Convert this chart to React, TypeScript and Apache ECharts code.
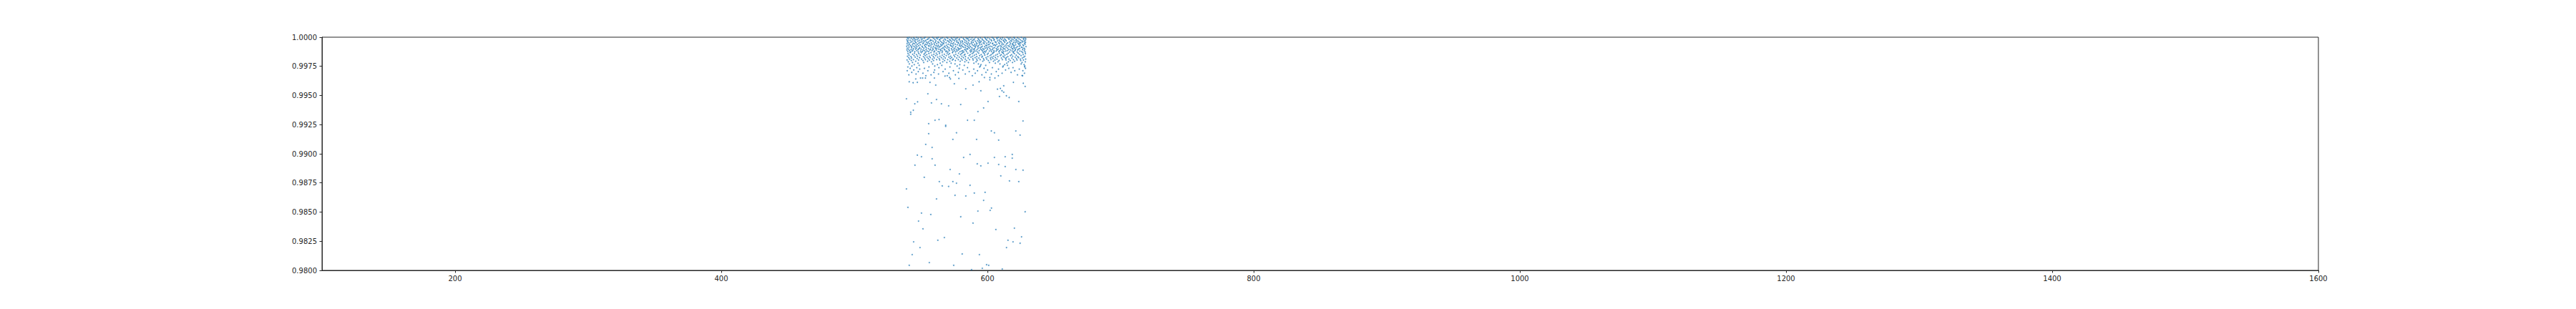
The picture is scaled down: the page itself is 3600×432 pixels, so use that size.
import React, { useEffect, useRef } from 'react';
import * as echarts from 'echarts';

// Axis ticks
const xTickValues = [200, 400, 600, 800, 1000, 1200, 1400, 1600];
const xMin = 100;
const xMax = 1600;
const yMin = 0.98;
const yMax = 1.0;
const yStep = 0.0025;

// Dense band near the top: [y, x values]
const denseRows: [number, number[]][] = [
  [0.99998, [541.2, 546.8, 553.1, 558.7, 563.0, 569.4, 574.9, 580.3, 586.6, 591.2, 597.8, 603.5, 608.1, 614.7, 619.9, 625.4]],
  [0.99994, [539.8, 544.5, 549.9, 556.2, 561.7, 566.3, 572.8, 577.5, 583.9, 588.4, 594.6, 600.2, 606.9, 611.3, 617.0, 622.6, 628.1]],
  [0.9999, [542.7, 548.1, 552.4, 559.6, 565.1, 570.2, 576.4, 581.8, 585.3, 592.9, 598.5, 604.4, 609.7, 615.8, 620.3, 626.9]],
  [0.99985, [540.6, 545.3, 551.0, 555.4, 562.3, 567.9, 573.5, 579.0, 584.7, 590.1, 595.9, 601.6, 607.3, 612.8, 618.4, 623.7, 628.8]],
  [0.99981, [543.9, 547.2, 554.8, 560.5, 564.2, 571.6, 575.7, 582.4, 587.5, 593.3, 599.0, 605.1, 610.6, 616.2, 621.5, 627.2]],
  [0.99977, [539.4, 546.0, 550.3, 557.1, 563.8, 568.5, 574.2, 578.6, 585.9, 589.7, 596.4, 602.7, 608.8, 613.5, 619.3, 624.8]],
  [0.99973, [541.9, 548.8, 553.7, 558.1, 566.9, 572.1, 577.0, 583.2, 588.8, 594.0, 599.7, 604.9, 611.9, 617.6, 622.1, 628.4]],
  [0.99969, [540.2, 544.9, 551.8, 556.9, 561.2, 569.9, 575.3, 580.9, 586.1, 592.4, 597.2, 603.1, 607.7, 614.1, 620.7, 625.9]],
  [0.99965, [543.3, 547.7, 552.9, 559.2, 564.7, 570.8, 573.0, 579.6, 584.4, 590.9, 595.2, 601.0, 609.3, 612.4, 618.0, 623.2, 627.6]],
  [0.9996, [539.9, 545.8, 550.6, 555.7, 562.8, 567.4, 576.8, 581.3, 587.9, 593.6, 598.1, 605.8, 610.2, 616.6, 621.9, 626.3]],
  [0.99956, [542.4, 549.4, 554.2, 560.9, 565.6, 571.3, 577.9, 583.0, 589.3, 594.8, 600.8, 606.4, 613.0, 619.6, 624.3, 628.6]],
  [0.99952, [540.9, 546.4, 552.0, 557.8, 563.4, 568.9, 574.6, 580.0, 585.6, 591.7, 596.9, 602.3, 608.5, 615.2, 620.9, 625.1]],
  [0.99948, [544.1, 548.5, 555.1, 559.9, 566.5, 572.6, 578.2, 584.1, 588.1, 593.9, 599.4, 604.0, 611.0, 617.3, 622.9, 627.9]],
  [0.99944, [539.6, 545.1, 551.4, 556.5, 561.9, 567.1, 573.8, 581.6, 586.8, 592.1, 597.5, 603.8, 609.0, 614.4, 619.0, 624.0]],
  [0.9994, [541.5, 547.4, 553.5, 558.4, 564.9, 570.5, 575.8, 579.3, 585.0, 590.4, 595.6, 601.3, 607.0, 612.1, 618.7, 623.5, 628.2]],
  [0.99935, [543.6, 549.6, 554.5, 560.2, 566.1, 571.9, 577.3, 582.7, 588.6, 594.3, 600.5, 605.5, 610.9, 616.9, 621.2, 626.6]],
  [0.99931, [540.4, 546.2, 552.7, 557.4, 563.1, 569.1, 574.4, 580.6, 586.3, 591.5, 598.8, 604.6, 613.8, 619.5, 624.6]],
  [0.99927, [542.1, 548.3, 555.9, 561.4, 565.3, 572.4, 578.9, 583.6, 589.6, 593.1, 599.3, 606.1, 609.5, 615.5, 620.1, 627.1]],
  [0.99923, [539.3, 544.7, 550.8, 556.1, 562.5, 567.7, 573.2, 579.8, 584.9, 590.6, 596.1, 602.0, 608.3, 612.6, 618.2, 623.9]],
  [0.99919, [543.1, 547.0, 553.3, 559.4, 564.4, 570.0, 576.1, 581.1, 587.2, 592.7, 597.9, 603.3, 610.4, 616.4, 622.4, 628.9]],
  [0.99915, [541.0, 545.6, 551.2, 557.6, 563.6, 568.2, 574.0, 582.1, 585.8, 591.0, 595.4, 600.9, 607.6, 614.0, 619.8, 625.5]],
  [0.9991, [542.9, 549.1, 554.0, 560.7, 566.7, 571.1, 577.7, 583.4, 588.3, 594.4, 599.6, 605.3, 611.6, 617.8, 621.7, 626.1]],
  [0.99906, [539.7, 546.6, 552.2, 558.9, 562.0, 569.6, 575.5, 580.1, 586.4, 593.0, 598.3, 604.2, 609.9, 615.1, 620.5, 627.4]],
  [0.99902, [544.3, 548.6, 555.6, 561.1, 565.8, 572.9, 578.4, 584.6, 590.3, 596.6, 601.8, 606.7, 612.3, 618.9, 624.2]],
  [0.99898, [540.7, 545.9, 550.1, 557.2, 563.3, 567.5, 574.7, 579.1, 585.1, 589.1, 594.9, 600.0, 608.0, 613.2, 619.1, 623.3, 628.0]],
  [0.99894, [542.6, 547.9, 553.9, 559.1, 564.6, 570.9, 576.6, 582.9, 587.7, 592.2, 597.3, 603.7, 610.1, 616.0, 621.0, 626.4]],
  [0.9989, [539.5, 544.0, 551.6, 556.7, 561.6, 568.0, 573.4, 578.0, 583.8, 590.0, 595.7, 602.5, 607.2, 611.5, 617.4, 622.7]],
  [0.99885, [541.4, 546.9, 552.6, 558.3, 565.0, 571.4, 575.1, 581.5, 586.9, 593.8, 599.1, 604.8, 609.2, 614.9, 620.6, 627.7]],
  [0.99881, [543.5, 549.8, 554.7, 560.3, 566.2, 569.3, 577.1, 580.7, 588.2, 591.3, 596.3, 601.4, 606.5, 613.7, 618.6, 624.4]],
  [0.99877, [540.1, 545.4, 551.1, 555.8, 562.9, 568.7, 574.1, 579.4, 584.2, 589.9, 597.7, 603.0, 608.6, 612.2, 619.7, 625.7]],
  [0.99873, [542.3, 548.0, 553.6, 559.8, 564.0, 570.3, 576.0, 582.2, 587.3, 592.6, 598.6, 605.0, 610.8, 616.7, 622.3, 628.3]],
];

// Medium band: [y, x values]
const midRows: [number, number[]][] = [
  [0.99868, [541.8, 550.2, 557.5, 565.9, 573.7, 581.4, 589.4, 596.8, 604.3, 611.4, 619.4, 626.5]],
  [0.99863, [545.2, 553.0, 561.5, 569.7, 578.3, 585.2, 593.4, 600.6, 608.9, 615.6, 623.1]],
  [0.99859, [540.3, 548.4, 556.0, 563.9, 571.5, 580.5, 588.5, 597.6, 603.9, 612.0, 620.2, 628.5]],
  [0.99854, [543.8, 552.3, 559.7, 567.6, 576.2, 583.1, 591.6, 599.9, 607.4, 614.6, 624.1]],
  [0.9985, [546.7, 554.4, 562.2, 570.6, 579.7, 587.0, 595.3, 602.8, 610.3, 618.1, 626.8]],
  [0.99846, [541.1, 549.5, 558.2, 566.0, 574.8, 582.5, 590.2, 598.0, 606.2, 613.1, 621.6]],
  [0.99842, [544.8, 553.2, 561.0, 569.0, 577.6, 586.2, 594.1, 601.9, 609.6, 617.2, 625.2]],
  [0.99837, [539.9, 547.5, 556.3, 564.3, 572.3, 580.8, 588.9, 596.2, 604.7, 611.7, 619.0, 628.1]],
  [0.99833, [542.5, 551.9, 559.3, 567.2, 575.4, 583.5, 592.0, 600.3, 607.8, 615.3, 622.8]],
  [0.99829, [545.7, 554.6, 562.6, 571.0, 578.8, 587.6, 595.8, 603.4, 612.5, 620.8, 627.3]],
  [0.99825, [540.8, 549.0, 557.0, 565.4, 573.1, 581.9, 590.7, 598.9, 606.0, 614.2, 623.4]],
  [0.99821, [543.0, 552.8, 560.0, 568.3, 576.9, 585.5, 593.5, 602.2, 610.5, 618.3, 626.2]],
  [0.99817, [547.1, 555.5, 563.7, 572.0, 580.2, 589.0, 597.0, 604.1, 613.6, 621.8]],
  [0.99812, [541.6, 550.5, 558.6, 566.6, 574.3, 583.3, 591.9, 599.5, 607.1, 616.1, 624.7, 628.7]],
  [0.99808, [544.4, 553.4, 561.8, 570.1, 578.1, 586.5, 594.5, 602.6, 611.2, 619.5]],
  [0.99804, [539.6, 548.2, 556.4, 564.1, 573.6, 581.0, 589.2, 597.4, 605.6, 613.9, 622.2, 627.0]],
  [0.998, [542.8, 551.5, 559.5, 567.8, 575.9, 584.3, 592.3, 600.7, 608.7, 617.1, 625.0]],
  [0.99794, [546.1, 555.0, 571.7, 579.5, 596.5, 604.5, 620.4]],
  [0.99789, [540.5, 557.9, 566.4, 583.0, 591.4, 607.9, 615.7, 628.4]],
  [0.99783, [543.7, 552.1, 569.5, 585.7, 601.5, 618.8, 626.0]],
  [0.99777, [547.8, 564.5, 572.7, 589.8, 605.9, 614.5]],
  [0.99771, [541.3, 558.8, 575.6, 593.2, 609.4, 625.3]],
  [0.99765, [545.0, 562.4, 579.2, 595.1, 612.9, 627.5]],
  [0.99759, [548.7, 565.7, 582.6, 598.7, 615.0]],
  [0.99753, [543.2, 560.4, 577.2, 594.7, 611.8, 628.0]],
];

// Thin band: [y, x values]
const thinRows: [number, number[]][] = [
  [0.99745, [540.2, 556.0, 571.8, 594.1, 611.5, 627.9]],
  [0.99739, [546.9, 563.5, 585.0, 603.7, 619.2]],
  [0.99733, [541.9, 552.6, 578.8, 597.4, 616.0, 628.6]],
  [0.99726, [549.1, 568.2, 589.7, 608.3, 623.9]],
  [0.99719, [544.6, 560.3, 581.5, 600.1, 613.6]],
  [0.99712, [539.7, 555.2, 574.4, 592.5, 620.5, 626.6]],
  [0.99705, [548.0, 566.6, 586.3, 606.6]],
  [0.99698, [543.1, 559.7, 578.1, 598.8, 617.7]],
  [0.99691, [551.5, 571.0, 590.8, 611.0, 627.8]],
  [0.99684, [546.3, 563.2, 583.3, 602.9]],
  [0.99677, [540.9, 557.6, 575.9, 595.8, 622.5]],
  [0.9967, [553.7, 569.8, 588.6, 608.2, 626.4]],
];

// Scattered lower points: [x, y]
const sparsePoints: [number, number][] = [
  [539.1, 0.99472], [541.2, 0.99618], [547.3, 0.99613], [544.1, 0.99609], [546.1, 0.99642],
  [549.7, 0.9965], [551.3, 0.9965], [553.4, 0.9965], [556.8, 0.99613], [561.1, 0.99589],
  [560.1, 0.9965], [568.1, 0.99667], [571.5, 0.99654], [575.1, 0.99601], [572.2, 0.99642],
  [578.5, 0.99646], [583.7, 0.99558], [589.1, 0.99589], [593.7, 0.99618], [595.0, 0.9954],
  [597.7, 0.99654], [601.8, 0.99654], [601.8, 0.99634], [605.6, 0.9965], [612.2, 0.99583],
  [607.5, 0.99554], [609.0, 0.99491], [609.7, 0.9956], [610.9, 0.9954], [612.2, 0.99528],
  [614.2, 0.99497], [616.3, 0.99483], [619.5, 0.99613], [626.0, 0.99671], [626.9, 0.99605],
  [628.3, 0.99577], [623.5, 0.99448], [555.2, 0.99515], [545.4, 0.99429], [547.5, 0.99446],
  [544.3, 0.99374], [542.3, 0.99356], [542.3, 0.99339], [557.9, 0.99436], [561.7, 0.99466],
  [565.4, 0.99429], [570.8, 0.99411], [579.9, 0.99423], [585.0, 0.99288], [590.1, 0.99288],
  [592.8, 0.99362], [597.1, 0.99393], [600.4, 0.99448], [560.6, 0.99288], [563.6, 0.99294],
  [555.8, 0.99258], [568.6, 0.99245], [568.6, 0.99235], [555.8, 0.99172], [576.7, 0.9918],
  [574.0, 0.99123], [591.8, 0.99123], [602.9, 0.99196], [605.2, 0.9918], [608.4, 0.99117],
  [621.3, 0.99196], [624.5, 0.9916], [626.7, 0.99282], [553.6, 0.9908], [558.4, 0.99055],
  [547.3, 0.98988], [550.4, 0.98975], [545.5, 0.98902], [558.4, 0.98957], [560.6, 0.98902],
  [552.5, 0.98798], [571.9, 0.98865], [578.9, 0.98828], [582.1, 0.98969], [586.9, 0.98994],
  [592.3, 0.98914], [595.0, 0.98896], [600.4, 0.9892], [605.2, 0.98969], [608.4, 0.98908],
  [613.3, 0.98975], [618.6, 0.98994], [618.6, 0.98963], [613.3, 0.9889], [610.0, 0.9881],
  [621.3, 0.98865], [626.7, 0.98859], [616.5, 0.98767], [623.5, 0.98761], [563.8, 0.98761],
  [566.0, 0.98724], [570.8, 0.9872], [574.0, 0.98761], [576.7, 0.98748], [586.9, 0.9873],
  [539.1, 0.98699], [561.7, 0.98613], [575.6, 0.98644], [583.7, 0.98638], [590.1, 0.98663],
  [598.2, 0.98669], [597.1, 0.98601], [540.2, 0.9854], [550.4, 0.98491], [557.4, 0.98479],
  [548.2, 0.98423], [551.5, 0.98356], [579.9, 0.9846], [589.1, 0.98405], [592.8, 0.98509],
  [602.0, 0.98515], [603.0, 0.98534], [606.3, 0.9835], [620.2, 0.98362], [628.3, 0.98503],
  [544.5, 0.98245], [549.3, 0.98196], [543.4, 0.98135], [562.7, 0.98258], [567.6, 0.98282],
  [581.0, 0.98141], [593.9, 0.98135], [614.3, 0.98196], [615.4, 0.98258], [619.2, 0.98245],
  [624.5, 0.98233], [625.6, 0.98288], [541.2, 0.98043], [556.3, 0.98067], [574.6, 0.98043],
  [588.0, 0.98006], [596.1, 0.98018], [599.3, 0.98049], [600.9, 0.98043], [611.1, 0.98012],
];

function rowsToPoints(rows: [number, number[]][]): [number, number][] {
  const out: [number, number][] = [];
  rows.forEach(([y, xs]) => xs.forEach((x) => out.push([x, y])));
  return out;
}

export default function App() {
  const ref = useRef<HTMLDivElement>(null);
  useEffect(() => {
    if (!ref.current) return;
    const chart = echarts.init(ref.current, null, { renderer: 'svg' });
    const data = [
      ...rowsToPoints(denseRows),
      ...rowsToPoints(midRows),
      ...rowsToPoints(thinRows),
      ...sparsePoints,
    ];
    const axisColor = '#262626';
    const font = 'DejaVu Sans';
    chart.setOption({
      animation: false,
      backgroundColor: '#ffffff',
      grid: {
        left: 450,
        right: 360,
        top: 52,
        bottom: 54,
        show: true,
        borderColor: axisColor,
        borderWidth: 1,
        backgroundColor: 'transparent',
      },
      xAxis: {
        type: 'value',
        min: xMin,
        max: xMax,
        interval: 100,
        axisLine: { show: true, lineStyle: { color: axisColor, width: 1 } },
        axisTick: {
          show: true,
          customValues: xTickValues,
          length: 3.5,
          lineStyle: { color: axisColor, width: 1 },
        },
        axisLabel: {
          customValues: xTickValues,
          fontSize: 10,
          color: axisColor,
          margin: 6,
          fontFamily: font,
          formatter: (v: number) => String(v),
        },
        splitLine: { show: false },
      },
      yAxis: {
        type: 'value',
        min: yMin,
        max: yMax,
        interval: yStep,
        axisLine: { show: true, lineStyle: { color: axisColor, width: 1 } },
        axisTick: { show: true, length: 3.5, lineStyle: { color: axisColor, width: 1 } },
        axisLabel: {
          fontSize: 10,
          color: axisColor,
          margin: 7,
          fontFamily: font,
          formatter: (v: number) => v.toFixed(4),
        },
        splitLine: { show: false },
      },
      series: [
        {
          type: 'scatter',
          data,
          symbol: 'circle',
          symbolSize: 2,
          clip: true,
          itemStyle: { color: '#1f77b4', opacity: 0.75 },
        },
      ],
    });
    return () => chart.dispose();
  }, []);
  return (
    <div
      ref={ref}
      style={{ position: 'fixed', left: 0, top: 0, width: 3600, height: 432, background: '#fff' }}
    />
  );
}
